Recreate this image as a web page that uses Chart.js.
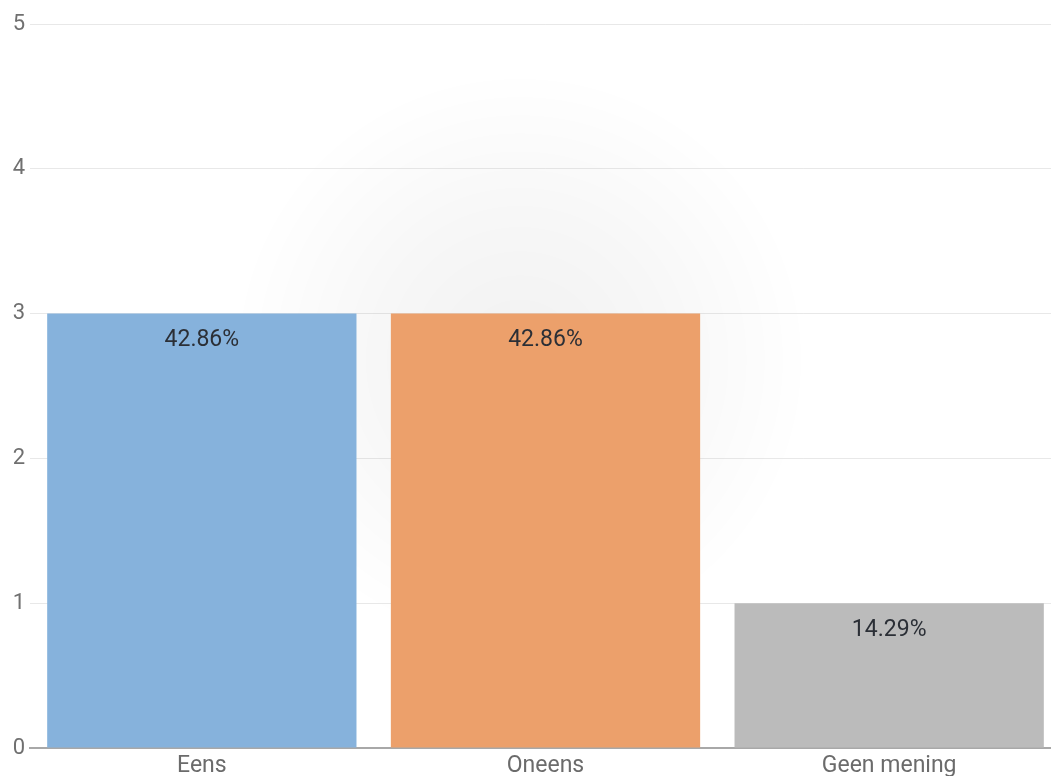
<!DOCTYPE html>
<html>
<head>
<meta charset="utf-8">
<script src="https://cdn.jsdelivr.net/npm/chart.js@4"></script>
<style>
  html, body { margin: 0; padding: 0; background: #fff; overflow: hidden; }
  #wrap { position: relative; width: 1061px; height: 776px; }
</style>
</head>
<body>
<div id="wrap"><canvas id="myChart"></canvas></div>
<script>
// categorieën en waarden
const categories = ['Eens', 'Oneens', 'Geen mening'];
const counts = [3, 3, 1];
const barColors = ['#86b2dc', '#eca06b', '#bbbbbb'];
const yTicks = [0, 1, 2, 3, 4, 5];

const total = counts.reduce((a, b) => a + b, 0);

// zachte grijze schaduw achter de grafiek
const glow = {
    id: 'glow',
    beforeDraw(chart) {
        const ctx = chart.ctx;
        const cx = 520, cy = 360, r = 290;
        const g = ctx.createRadialGradient(cx, cy, 0, cx, cy, r);
        g.addColorStop(0, 'rgba(0,0,0,0.055)');
        g.addColorStop(0.5, 'rgba(0,0,0,0.03)');
        g.addColorStop(1, 'rgba(0,0,0,0)');
        ctx.save();
        ctx.fillStyle = g;
        ctx.fillRect(cx - r, cy - r, r * 2, r * 2);
        ctx.restore();
    }
};

// percentages in de balken
const percentLabels = {
    id: 'percentLabels',
    afterDatasetsDraw(chart) {
        const ctx = chart.ctx;
        const meta = chart.getDatasetMeta(0);
        ctx.save();
        ctx.font = '23px Roboto';
        ctx.fillStyle = '#2b2f36';
        ctx.textAlign = 'center';
        ctx.textBaseline = 'middle';
        meta.data.forEach((bar, i) => {
            const pct = (counts[i] / total * 100).toFixed(2) + '%';
            ctx.fillText(pct, bar.x, bar.y + 27);
        });
        ctx.restore();
    }
};

const ctx = document.getElementById('myChart').getContext('2d');

const myChart = new Chart(ctx, {
    type: 'bar',
    data: {
        labels: categories,
        datasets: [{
            data: counts,
            backgroundColor: barColors,
            borderWidth: 0,
            barPercentage: 0.9,
            categoryPercentage: 1.0,
        }],
    },
    options: {
        responsive: true,
        maintainAspectRatio: false,
        animation: false,
        layout: { padding: { top: 24, right: 0, bottom: 0, left: 0 } },
        plugins: {
            legend: { display: false },
            tooltip: { enabled: false },
        },
        scales: {
            x: {
                afterFit(scale) { scale.height = 28; },
                grid: { display: false, drawTicks: false },
                border: { display: true, color: '#a8a8a8', width: 2 },
                ticks: {
                    color: '#6b6b6b',
                    font: { family: 'Roboto', size: 23 },
                    padding: 4,
                },
            },
            y: {
                min: 0,
                max: 5,
                z: 1,
                afterFit(scale) { scale.width = 30; },
                afterBuildTicks(scale) { scale.ticks = yTicks.map(v => ({ value: v })); },
                grid: { color: 'rgba(0,0,0,0.09)', drawTicks: false },
                border: { display: false },
                ticks: {
                    color: '#707070',
                    font: { family: 'Roboto', size: 22 },
                    padding: 5,
                },
            },
        },
    },
    plugins: [glow, percentLabels],
});
</script>
</body>
</html>
